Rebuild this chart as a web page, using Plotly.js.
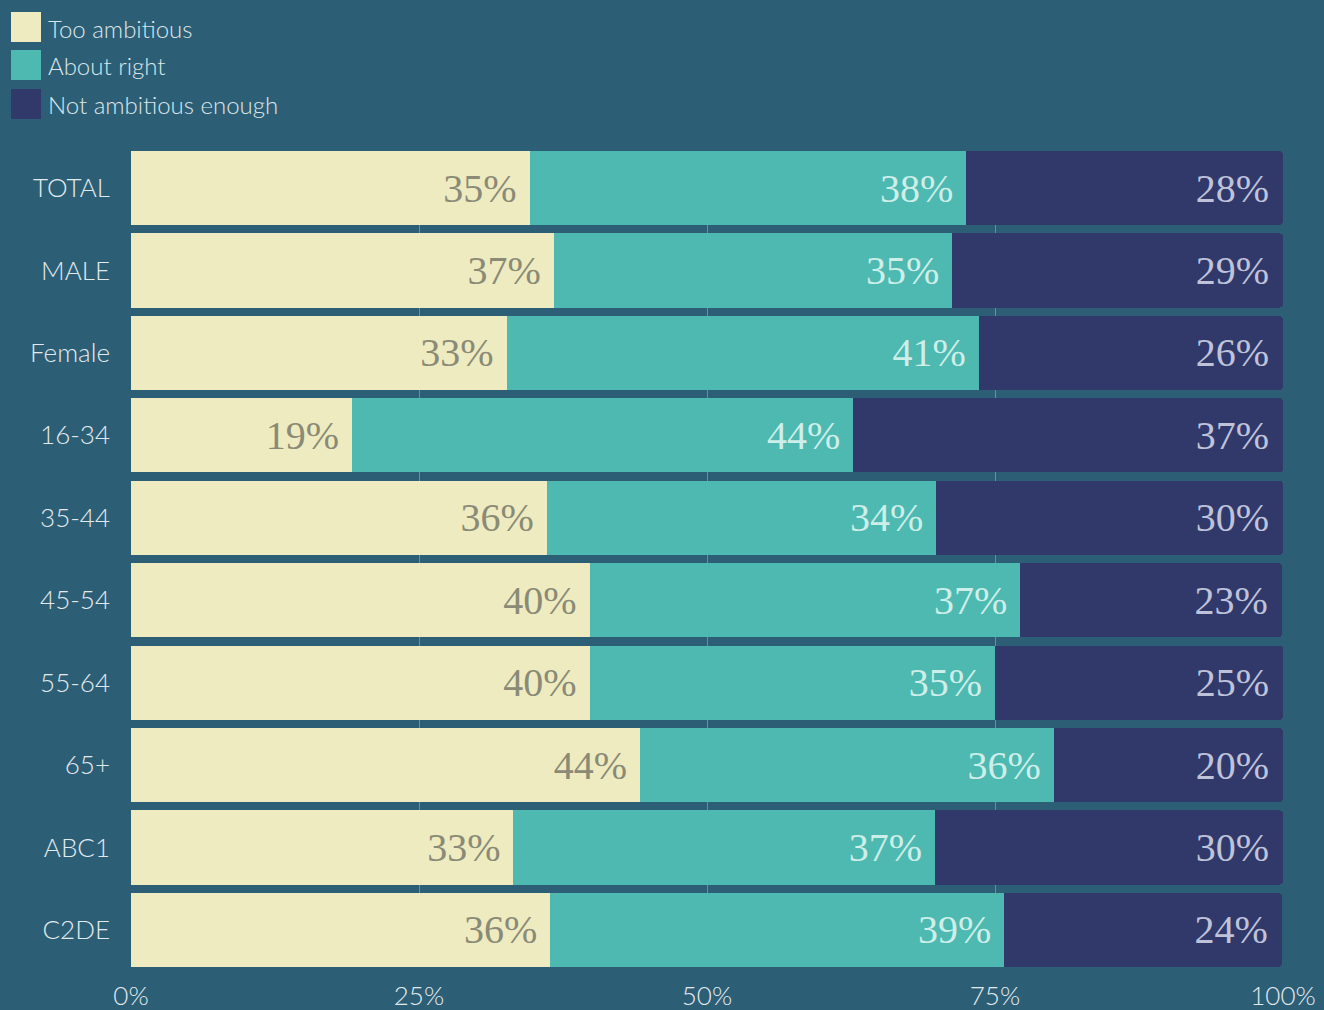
<!DOCTYPE html>
<html>
<head>
<meta charset="utf-8">
<script src="https://cdn.plot.ly/plotly-3.0.1.min.js"></script>
<style>
  html, body { margin: 0; padding: 0; background: #2C5F76; }
  #chart { width: 1324px; height: 1010px; }
</style>
</head>
<body>
<div id="chart"></div>
<script>
// ---- data ----
const categories = ['TOTAL', 'MALE', 'Female', '16-34', '35-44', '45-54', '55-64', '65+', 'ABC1', 'C2DE'];
const seriesNames = ['Too ambitious', 'About right', 'Not ambitious enough'];
const tooAmbitious = [34.6, 36.7, 32.6, 19.2, 36.1, 39.8, 39.8, 44.2, 33.2, 36.4];
const aboutRight   = [37.9, 34.6, 41.0, 43.5, 33.8, 37.4, 35.2, 35.9, 36.6, 39.4];
const notEnough    = [27.5, 28.7, 26.4, 37.3, 30.1, 22.7, 25.0, 19.9, 30.2, 24.1];
const tooAmbitiousLabels = ['35%', '37%', '33%', '19%', '36%', '40%', '40%', '44%', '33%', '36%'];
const aboutRightLabels   = ['38%', '35%', '41%', '44%', '34%', '37%', '35%', '36%', '37%', '39%'];
const notEnoughLabels    = ['28%', '29%', '26%', '37%', '30%', '23%', '25%', '20%', '30%', '24%'];
const xTickVals = [0, 25, 50, 75, 100];
const xTickText = ['0%', '25%', '50%', '75%', '100%'];

// ---- styles ----
const barColors = ['#EEEBC1', '#4EB9B1', '#31396B'];
const labelColors = ['#8A8A76', '#CDEEE9', '#BFC3DA'];
const bg = '#2C5F76';
const sans = 'Lato';
const serif = 'Liberation Serif';

const M = {l: 131, r: 41, t: 151, b: 43};
const W = 1324, H = 1010;
const pw = W - M.l - M.r, ph = H - M.t - M.b;
const px = x => (x - M.l) / pw;
const py = y => (H - M.b - y) / ph;

const values = [tooAmbitious, aboutRight, notEnough];
const labels = [tooAmbitiousLabels, aboutRightLabels, notEnoughLabels];

const traces = values.map((v, i) => ({
  type: 'bar',
  orientation: 'h',
  name: seriesNames[i],
  y: categories,
  x: v,
  text: labels[i],
  texttemplate: '%{text}\u00a0',
  textposition: 'inside',
  insidetextanchor: 'end',
  textangle: 0,
  constraintext: 'none',
  textfont: {family: serif, size: 40, color: labelColors[i]},
  insidetextfont: {family: serif, size: 40, color: labelColors[i]},
  marker: {color: barColors[i], line: {width: 0}},
  hoverinfo: 'skip',
  showlegend: false
}));

// custom legend (large swatches)
const legendShapes = [];
const legendAnn = [];
const legTops = [12, 50, 89];
seriesNames.forEach((n, i) => {
  legendShapes.push({
    type: 'rect', xref: 'paper', yref: 'paper',
    x0: px(11), x1: px(41), y0: py(legTops[i] + 30), y1: py(legTops[i]),
    fillcolor: barColors[i], line: {width: 0}, layer: 'above'
  });
  legendAnn.push({
    xref: 'paper', yref: 'paper', x: px(46), y: py(legTops[i] + 16),
    xanchor: 'left', yanchor: 'middle', showarrow: false,
    text: n, font: {family: sans, size: 24, color: '#DDE6EA', weight: 300}
  });
});

const layout = {
  width: W, height: H,
  paper_bgcolor: bg, plot_bgcolor: bg,
  margin: M,
  barmode: 'stack',
  bargap: 0.1,
  barcornerradius: 4,
  showlegend: false,
  xaxis: {
    range: [0, 100],
    tickvals: xTickVals, ticktext: xTickText,
    showgrid: true, gridcolor: '#6E8C9C', gridwidth: 1,
    zeroline: false, showline: false, ticks: '',
    tickfont: {family: sans, size: 26, color: '#E3EAEE', weight: 300},
    ticklabelstandoff: 11,
    fixedrange: true
  },
  yaxis: {
    type: 'category',
    categoryorder: 'array', categoryarray: categories,
    range: [9.45, -0.45],
    showgrid: false, zeroline: false, showline: false, ticks: '',
    tickfont: {family: sans, size: 26, color: '#E3EAEE', weight: 300},
    ticklabelstandoff: 20,
    fixedrange: true
  },
  shapes: legendShapes,
  annotations: legendAnn
};

Plotly.newPlot('chart', traces, layout, {displayModeBar: false, staticPlot: true});
</script>
</body>
</html>
